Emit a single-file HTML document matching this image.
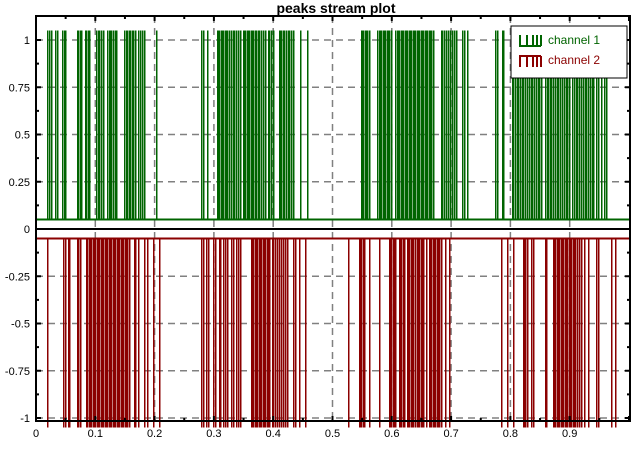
<!DOCTYPE html>
<html><head><meta charset="utf-8"><style>
body{margin:0;background:#fff;}
svg{display:block;font-family:"Liberation Sans",sans-serif;}
</style></head><body>
<svg id="chart" width="636" height="458" viewBox="0 0 636 458" xmlns="http://www.w3.org/2000/svg">
<text x="336" y="13" text-anchor="middle" font-size="14" font-weight="bold">peaks stream plot</text>
<g id="grid"></g>
<g id="series"></g>
<g id="axes"></g>
<g>
<rect x="511" y="26" width="116" height="52" fill="#fff" stroke="#000" stroke-width="1"/>
<path d="M519 46 H541 M520 46 V35 M527 46 V35 M533 46 V35 M537 46 V35 M541 46 V35" stroke="#006400" stroke-width="2" fill="none"/>
<text x="548" y="44" font-size="12" fill="#006400">channel 1</text>
<path d="M519 56 H541 M520 56 V67 M527 56 V67 M533 56 V67 M537 56 V67 M541 56 V67" stroke="#8b0000" stroke-width="2" fill="none"/>
<text x="548" y="64" font-size="12" fill="#8b0000">channel 2</text>
</g>
</svg>
<script>
const ch1Peaks=[0.0186,0.0214,0.0253,0.0326,0.0354,0.0438,0.0467,0.0495,0.0686,0.0714,0.0736,0.0764,0.0821,0.0849,0.0877,0.0899,0.1012,0.104,0.1068,0.1096,0.1124,0.1203,0.1225,0.1248,0.127,0.1298,0.1327,0.1355,0.1484,0.1512,0.1535,0.1563,0.1585,0.1613,0.1641,0.1669,0.1726,0.1754,0.1793,0.1816,0.2024,0.2777,0.2811,0.2878,0.3052,0.3069,0.3092,0.3114,0.3137,0.3159,0.3182,0.3204,0.3227,0.326,0.3294,0.3316,0.3345,0.3373,0.3406,0.344,0.3485,0.3508,0.353,0.3553,0.3575,0.3598,0.362,0.3643,0.3665,0.3687,0.371,0.3744,0.3766,0.38,0.3834,0.3867,0.3912,0.3935,0.3969,0.3991,0.4092,0.4115,0.4137,0.416,0.4188,0.4216,0.4244,0.4272,0.4306,0.434,0.4452,0.4576,0.5475,0.5497,0.552,0.5542,0.5565,0.5587,0.561,0.5756,0.5778,0.5801,0.5823,0.5846,0.5868,0.5891,0.5913,0.5936,0.5958,0.598,0.6059,0.6082,0.6104,0.6127,0.6149,0.6172,0.6194,0.6216,0.6239,0.6261,0.6284,0.6306,0.6329,0.6351,0.6374,0.6396,0.6419,0.6442,0.6464,0.6486,0.6509,0.6532,0.6554,0.6576,0.6599,0.6621,0.6644,0.6666,0.6689,0.6824,0.6846,0.688,0.6914,0.6947,0.6981,0.7015,0.7049,0.7082,0.7183,0.7217,0.7273,0.7734,0.7768,0.7858,0.788,0.802,0.805,0.808,0.811,0.813,0.816,0.819,0.822,0.825,0.828,0.831,0.834,0.837,0.84,0.843,0.846,0.849,0.852,0.858,0.861,0.864,0.866,0.869,0.872,0.875,0.878,0.881,0.884,0.887,0.89,0.893,0.896,0.899,0.904,0.907,0.91,0.913,0.916,0.919,0.922,0.925,0.928,0.931,0.934,0.937,0.94,0.944,0.948,0.952,0.958,0.962];
const ch2Peaks=[0.018,0.0461,0.0483,0.054,0.0562,0.0686,0.0708,0.0742,0.0843,0.0866,0.0888,0.0911,0.0933,0.0956,0.0978,0.1001,0.1023,0.1046,0.1068,0.109,0.1113,0.1135,0.1158,0.118,0.1203,0.1225,0.1248,0.127,0.1293,0.1315,0.1338,0.136,0.1383,0.1405,0.1428,0.145,0.1473,0.1495,0.1518,0.154,0.1563,0.1653,0.1675,0.172,0.1821,0.1866,0.1967,0.208,0.2777,0.2811,0.2867,0.29,0.299,0.3024,0.308,0.3103,0.3148,0.3182,0.3215,0.3283,0.3316,0.3373,0.3406,0.344,0.362,0.3643,0.3665,0.3687,0.371,0.3732,0.3755,0.3777,0.38,0.3822,0.3845,0.3867,0.389,0.3912,0.3935,0.398,0.4002,0.4036,0.407,0.4103,0.4137,0.4171,0.4193,0.4227,0.4328,0.4373,0.444,0.4542,0.5261,0.5441,0.5464,0.5486,0.5509,0.5531,0.5621,0.579,0.5947,0.597,0.5992,0.6015,0.6037,0.6059,0.6116,0.6138,0.6161,0.6183,0.6206,0.6251,0.6273,0.6296,0.6318,0.6341,0.6363,0.6397,0.6419,0.6442,0.6464,0.6486,0.6509,0.6532,0.6577,0.6621,0.6644,0.6666,0.6689,0.6711,0.6734,0.6756,0.6779,0.6801,0.6835,0.6902,0.6959,0.7835,0.7948,0.8038,0.8206,0.8229,0.8251,0.8274,0.8341,0.8386,0.8577,0.86,0.8712,0.8735,0.8757,0.8779,0.8802,0.8824,0.8847,0.8869,0.8892,0.8914,0.8937,0.8959,0.8982,0.9004,0.9027,0.9049,0.9072,0.9094,0.9117,0.915,0.9184,0.924,0.9308,0.9442,0.9477,0.9702,0.9769];
const ch1Base=0.05, ch1Top=1.05, ch2Base=-0.05, ch2Top=-1.05;
const xTicks=[0,0.1,0.2,0.3,0.4,0.5,0.6,0.7,0.8,0.9];
const xTickLabels=["0","0.1","0.2","0.3","0.4","0.5","0.6","0.7","0.8","0.9"];
const yTicks=[1,0.75,0.5,0.25,0,-0.25,-0.5,-0.75,-1];
const yTickLabels=["1","0.75","0.5","0.25","0","-0.25","-0.5","-0.75","-1"];

const L=36,R=630,T=16,B=421;
const sx=v=>L+v*593;
const sy=v=>229-v*189;
const NS="http://www.w3.org/2000/svg";
function mk(tag,attrs,parent){const e=document.createElementNS(NS,tag);for(const k in attrs)e.setAttribute(k,attrs[k]);parent.appendChild(e);return e;}
const grid=document.getElementById('grid'),series=document.getElementById('series'),axes=document.getElementById('axes');

xTicks.forEach((t,i)=>{if(t===0)return;
 const g=mk('line',{x1:sx(t),x2:sx(t),y1:T,y2:B,stroke:'#808080','stroke-width':1.5,'stroke-dasharray':'7,5'},grid);
 
 });
yTicks.forEach(t=>{if(t===0)return;
 const g=mk('line',{x1:L,x2:R,y1:sy(t),y2:sy(t),stroke:'#808080','stroke-width':1.5,'stroke-dasharray':'7,5'},grid);
 
 });

function drawChannel(peaks,base,top,color,name){
 let d='';
 peaks.forEach(p=>{d+=` M${Math.round(sx(p))+0.5} ${sy(base)} V${sy(top)}`;});
 const p=mk('path',{d:d,stroke:color,'stroke-width':1.5,fill:'none','shape-rendering':'crispEdges'},series);
 
 
 const bl=mk('line',{x1:L,x2:R,y1:sy(base),y2:sy(base),stroke:color,'stroke-width':2},series);
 
 
}
drawChannel(ch1Peaks,ch1Base,ch1Top,'#006400','channel-1-series');
drawChannel(ch2Peaks,ch2Base,ch2Top,'#8b0000','channel-2-series');

const zl=mk('line',{x1:L,x2:R,y1:sy(0),y2:sy(0),stroke:'#000','stroke-width':2},axes);


const fr=mk('rect',{x:L,y:T,width:R-L,height:B-T,fill:'none',stroke:'#000','stroke-width':2},axes);


for(let v=0;v<=1.0001;v+=0.05){const x=sx(v),len=(Math.round(v*100)%10===0)?5:3;
 mk('line',{x1:x,x2:x,y1:B,y2:B-len,stroke:'#000','stroke-width':2},axes);
 mk('line',{x1:x,x2:x,y1:T,y2:T+len,stroke:'#000','stroke-width':2},axes);}
for(let v=-1;v<=1.0001;v+=0.125){const y=sy(v),len=(Math.round(v*1000)%250===0)?5:3;
 mk('line',{x1:L,x2:L+len,y1:y,y2:y,stroke:'#000','stroke-width':2},axes);
 mk('line',{x1:R,x2:R-len,y1:y,y2:y,stroke:'#000','stroke-width':2},axes);}
xTicks.forEach((t,i)=>{const tx=mk('text',{x:sx(t),y:437,'text-anchor':'middle','font-size':11},axes);tx.textContent=xTickLabels[i];
 
 });
yTicks.forEach((t,i)=>{const tx=mk('text',{x:30,y:sy(t)+4,'text-anchor':'end','font-size':11},axes);tx.textContent=yTickLabels[i];
 
 });
</script>
</body></html>
